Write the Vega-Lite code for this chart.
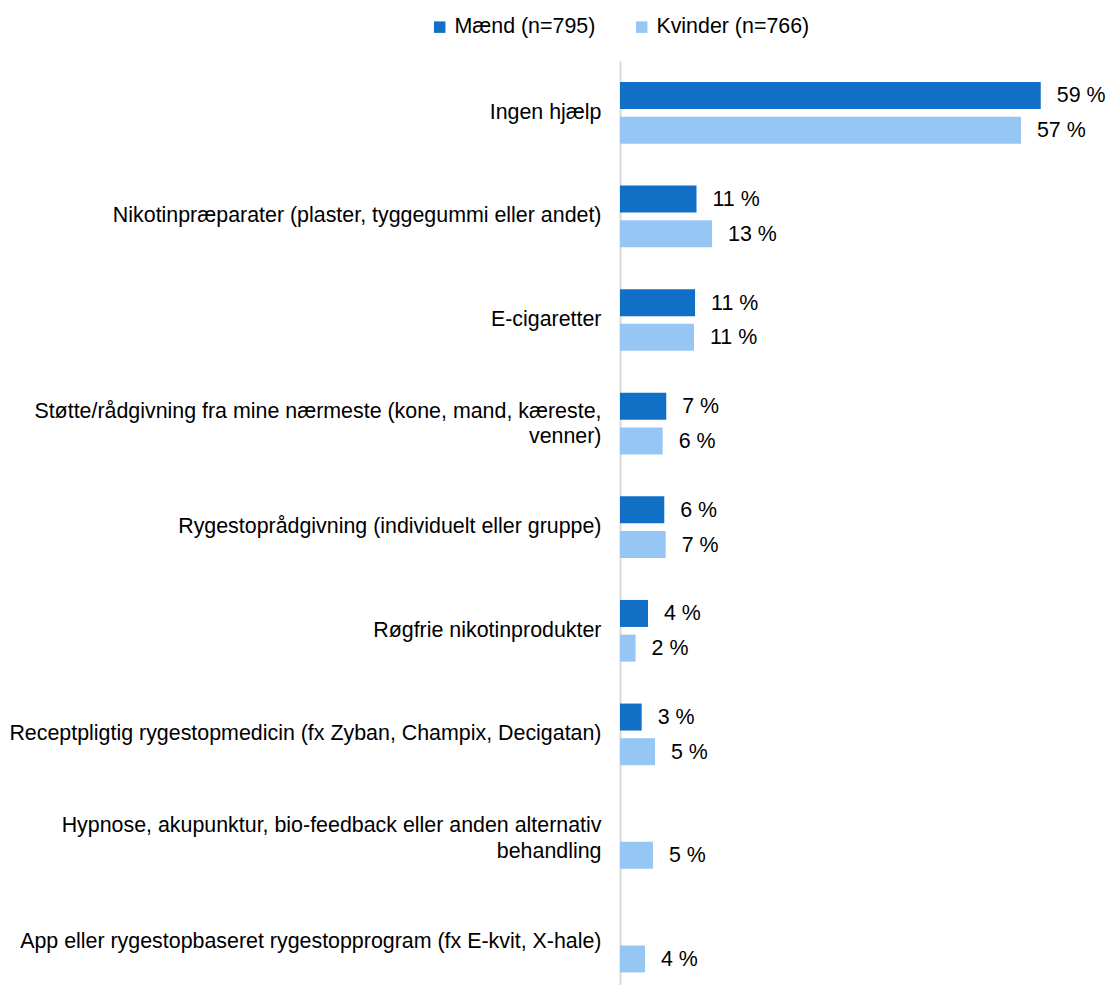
{
  "$schema": "https://vega.github.io/schema/vega-lite/v6.json",
  "width": 425,
  "height": 924,
  "autosize": {"type": "none"},
  "padding": {"left": 620, "top": 61, "right": 62, "bottom": 0},
  "background": "white",
  "config": {"view": {"stroke": null}, "font": "Liberation Sans"},
  "data": {
    "values": [
      {"cat": "Ingen hjælp", "sex": "Mænd (n=795)", "value": 59.4, "label": "59 %"},
      {"cat": "Ingen hjælp", "sex": "Kvinder (n=766)", "value": 56.6, "label": "57 %"},
      {"cat": "Nikotinpræparater (plaster, tyggegummi eller andet)", "sex": "Mænd (n=795)", "value": 10.8, "label": "11 %"},
      {"cat": "Nikotinpræparater (plaster, tyggegummi eller andet)", "sex": "Kvinder (n=766)", "value": 13.0, "label": "13 %"},
      {"cat": "E-cigaretter", "sex": "Mænd (n=795)", "value": 10.6, "label": "11 %"},
      {"cat": "E-cigaretter", "sex": "Kvinder (n=766)", "value": 10.45, "label": "11 %"},
      {"cat": "Støtte/rådgivning fra mine nærmeste (kone, mand, kæreste,|venner)", "sex": "Mænd (n=795)", "value": 6.53, "label": "7 %"},
      {"cat": "Støtte/rådgivning fra mine nærmeste (kone, mand, kæreste,|venner)", "sex": "Kvinder (n=766)", "value": 6.02, "label": "6 %"},
      {"cat": "Rygestoprådgivning (individuelt eller gruppe)", "sex": "Mænd (n=795)", "value": 6.25, "label": "6 %"},
      {"cat": "Rygestoprådgivning (individuelt eller gruppe)", "sex": "Kvinder (n=766)", "value": 6.45, "label": "7 %"},
      {"cat": "Røgfrie nikotinprodukter", "sex": "Mænd (n=795)", "value": 3.95, "label": "4 %"},
      {"cat": "Røgfrie nikotinprodukter", "sex": "Kvinder (n=766)", "value": 2.2, "label": "2 %"},
      {"cat": "Receptpligtig rygestopmedicin (fx Zyban, Champix, Decigatan)", "sex": "Mænd (n=795)", "value": 3.06, "label": "3 %"},
      {"cat": "Receptpligtig rygestopmedicin (fx Zyban, Champix, Decigatan)", "sex": "Kvinder (n=766)", "value": 4.94, "label": "5 %"},
      {"cat": "Hypnose, akupunktur, bio-feedback eller anden alternativ|behandling", "sex": "Kvinder (n=766)", "value": 4.65, "label": "5 %"},
      {"cat": "App eller rygestopbaseret rygestopprogram (fx E-kvit, X-hale)", "sex": "Kvinder (n=766)", "value": 3.53, "label": "4 %"}
    ]
  },
  "encoding": {
    "y": {
      "field": "cat",
      "type": "nominal",
      "sort": null,
      "title": null,
      "scale": {"range": [0, 932.4], "paddingInner": 0, "paddingOuter": 0},
      "axis": {
        "domainColor": "#D9D9D9",
        "domainWidth": 2,
        "ticks": false,
        "labelFontSize": 21.4,
        "labelColor": "#000000",
        "labelPadding": 19,
        "labelLimit": 620,
        "labelLineHeight": 25.5,
        "labelFont": "Liberation Sans",
        "labelOffset": {"condition": {"test": "indexof(datum.label, '|') >= 0", "value": -12}, "value": 0},
        "labelExpr": "split(datum.label, '|')"
      }
    },
    "yOffset": {
      "field": "sex",
      "type": "nominal",
      "sort": ["Mænd (n=795)", "Kvinder (n=766)"],
      "scale": {"paddingInner": 0.222, "paddingOuter": 0.604}
    },
    "x": {
      "field": "value",
      "type": "quantitative",
      "scale": {"domain": [0, 60], "nice": false},
      "axis": null
    }
  },
  "layer": [
    {
      "mark": {"type": "bar"},
      "encoding": {
        "color": {
          "field": "sex",
          "type": "nominal",
          "scale": {
            "domain": ["Mænd (n=795)", "Kvinder (n=766)"],
            "range": ["#1170C6", "#95C6F4"]
          },
          "legend": {
            "orient": "none",
            "legendX": -191,
            "legendY": -45,
            "direction": "horizontal",
            "title": null,
            "symbolType": "square",
            "symbolSize": 132,
            "symbolStrokeWidth": 0,
            "labelFontSize": 21.4,
            "labelFont": "Liberation Sans",
            "labelColor": "#000000",
            "labelOffset": 4,
            "columnPadding": 35
          }
        }
      }
    },
    {
      "mark": {"type": "text", "align": "left", "baseline": "middle", "dx": 16, "dy": 1, "fontSize": 21.4, "color": "#000000", "font": "Liberation Sans"},
      "encoding": {"text": {"field": "label", "type": "nominal"}}
    }
  ]
}
